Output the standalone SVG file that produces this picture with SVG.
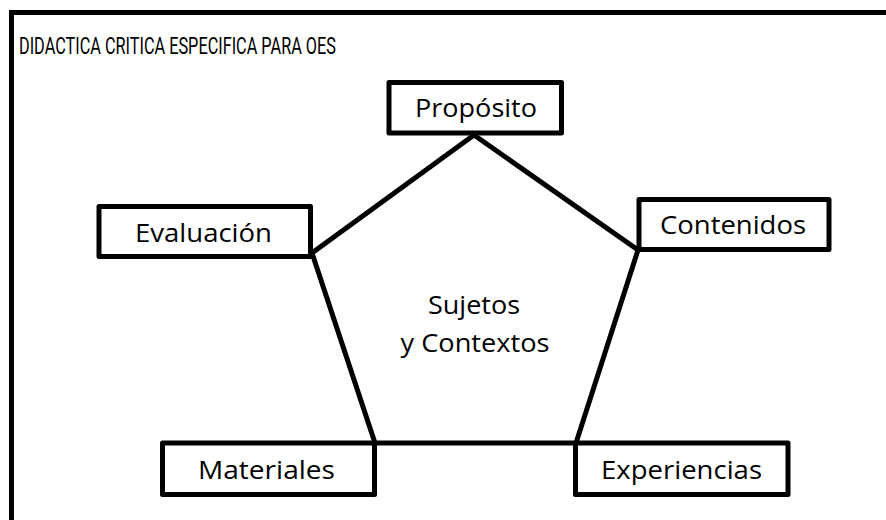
<svg xmlns="http://www.w3.org/2000/svg" width="886" height="520" viewBox="0 0 886 520">
<style>
.box{fill:#fff;stroke:#000;stroke-width:5;stroke-linejoin:round}
.lbl{font-family:"Open Sans","Liberation Sans",sans-serif;font-size:26px;fill:#000}
.edge{stroke:#000;stroke-width:5;fill:none;stroke-linecap:round}
</style>
<rect width="886" height="520" fill="#fff"/>
<rect x="11.5" y="12.5" width="900" height="540" fill="none" stroke="#000" stroke-width="5"/>
<text x="19" y="54" style="font-family:Roboto,'Open Sans',sans-serif;font-size:23px;fill:#000" textLength="317" lengthAdjust="spacingAndGlyphs">DIDACTICA CRITICA ESPECIFICA PARA OES</text>
<g id="connectors">
<path class="edge" d="M474,135 L312,253 L375,443 L576,443 L638,250 Z"/>
</g>
<g id="center">
<text x="474" y="314" class="lbl" text-anchor="middle" textLength="92" lengthAdjust="spacingAndGlyphs">Sujetos</text>
<text x="475" y="352" class="lbl" text-anchor="middle" textLength="149" lengthAdjust="spacingAndGlyphs">y Contextos</text>
</g>
<g id="proposito">
<rect class="box" x="389" y="82.5" width="172.5" height="50.5"/>
<text x="415" y="117" class="lbl" textLength="122" lengthAdjust="spacingAndGlyphs">Propósito</text>
</g>
<g id="evaluacion">
<rect class="box" x="99" y="206.5" width="211.5" height="50"/>
<text x="135" y="241.5" class="lbl" textLength="137" lengthAdjust="spacingAndGlyphs">Evaluación</text>
</g>
<g id="contenidos">
<rect class="box" x="639" y="199.5" width="190" height="50"/>
<text x="660" y="234" class="lbl" textLength="146" lengthAdjust="spacingAndGlyphs">Contenidos</text>
</g>
<g id="materiales">
<rect class="box" x="162.5" y="443" width="212" height="51.5"/>
<text x="198" y="479" class="lbl" textLength="137" lengthAdjust="spacingAndGlyphs">Materiales</text>
</g>
<g id="experiencias">
<rect class="box" x="575.5" y="443" width="212.5" height="51.5"/>
<text x="601" y="479" class="lbl" textLength="161" lengthAdjust="spacingAndGlyphs">Experiencias</text>
</g>
</svg>
